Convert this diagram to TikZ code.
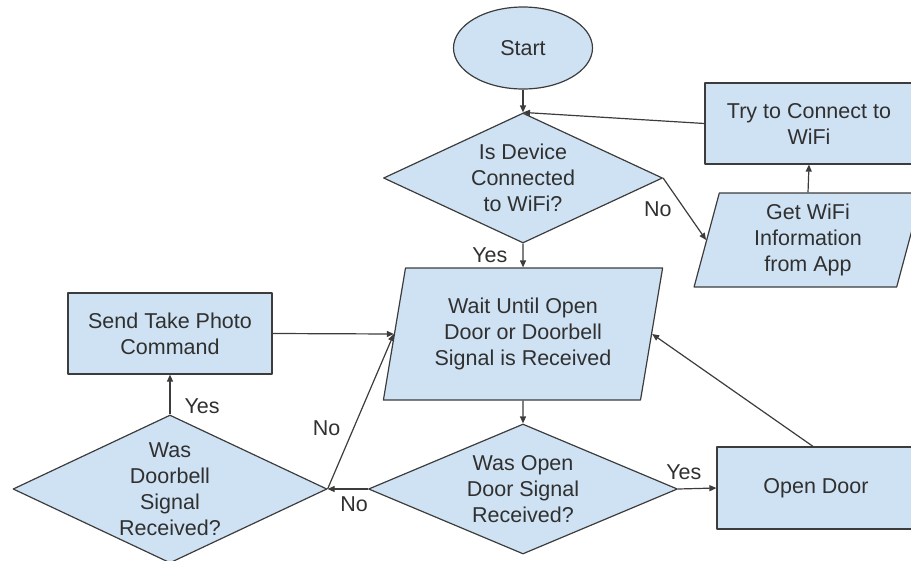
\documentclass[tikz,border=0pt]{standalone}
\usepackage{fontspec}
\setmainfont{Liberation Sans}
\usepackage{tikz}
\usetikzlibrary{arrows.meta,shapes.geometric,calc,positioning}
\definecolor{boxfill}{HTML}{CFE2F3}
\definecolor{boxline}{HTML}{3C3C3C}
\definecolor{boxtext}{HTML}{303030}
\tikzstyle{edge}    =[draw=boxline, line width=1.2pt,
                      -{Triangle[length=7pt,width=6pt]}]
\tikzstyle{block}   =[draw=boxline, fill=boxfill, line width=1.2pt,
                      align=center, inner sep=0pt, text=boxtext]
\tikzstyle{process} =[block, rectangle]
\tikzstyle{decision}=[block, diamond]
\tikzstyle{io}      =[block, trapezium, trapezium left angle=77,
                      trapezium right angle=103, trapezium stretches=true]
\tikzstyle{terminal}=[block, ellipse]
\tikzstyle{answer}  =[text=boxtext, inner sep=2pt]

\begin{document}
\begin{tikzpicture}[x=1pt, y=-1pt, line join=round,
            every node/.style={font=\fontsize{21.5}{26}\selectfont}]
    \clip (0,0) rectangle (911,560);

    % top: start and wifi loop
    \node[terminal, minimum width=139pt, minimum height=82pt] (start) at (523,48) {Start};
    \node[decision, minimum width=279pt, minimum height=130pt, shape aspect=2.15]
        (conn) at (523,178) {Is Device\\Connected\\to WiFi?};
    \node[process, minimum width=208pt, minimum height=81pt] (tryc) at (809,123.5)
        {Try to Connect to\\WiFi};
    \node[io, trapezium left angle=78, trapezium right angle=102,
          minimum width=228pt, minimum height=94pt] (getw) at (808,240)
        {Get WiFi\\Information\\from App};

    % middle and bottom rows
    \node[io, minimum width=280pt, minimum height=132pt] (wait) at (523,334)
        {Wait Until Open\\Door or Doorbell\\Signal is Received};
    \node[process, minimum width=204pt, minimum height=81pt] (send) at (170,333.5)
        {Send Take Photo\\Command};
    \node[decision, minimum width=309pt, minimum height=130pt, shape aspect=2.38]
        (opend) at (523,489) {Was Open\\Door Signal\\Received?};
    \node[decision, minimum width=314pt, minimum height=148pt, shape aspect=2.12]
        (bell) at (170,489) {Was\\Doorbell\\Signal\\Received?};
    \node[process, minimum width=198pt, minimum height=82pt] (door) at (816,488) {Open Door};

    \draw[edge] (start.south) -- (conn.north);
    \draw[edge] (tryc.west) -- (conn.north);
    \draw[edge] (conn.east) -- node[answer, left=10.5pt] {No} (getw.west);
    \draw[edge] (getw.north) -- (tryc.south);
    \draw[edge] (conn.south) -- node[answer, left=13pt] {Yes} (wait.north);
    \draw[edge] (wait.south) -- (opend.north);
    \draw[edge] (opend.east) -- node[answer, pos=0.15, above=7pt] {Yes} (door.west);
    \draw[edge] ([xshift=-3pt]door.north) -- (wait.east);
    \draw[edge] (opend.west) -- node[answer, pos=0.34, below=5pt] {No} (bell.east);
    \draw[edge] (bell.north) -- node[answer, pos=0.2, right=12pt] {Yes} (send.south);
    \draw[edge] (send.east) -- (wait.west);
    \draw[edge] (bell.east) -- node[answer, pos=0.39, left=10.5pt] {No} (wait.west);
\end{tikzpicture}
\end{document}
